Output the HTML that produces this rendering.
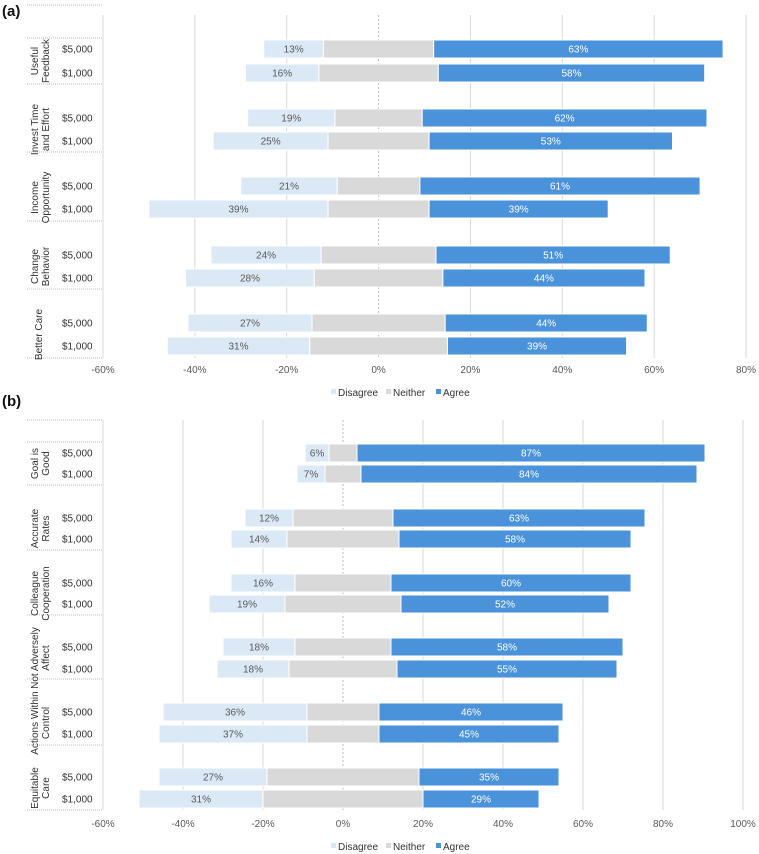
<!DOCTYPE html>
<html><head><meta charset="utf-8">
<style>
html,body{margin:0;padding:0;background:#fff;}
svg{display:block;font-family:"Liberation Sans",sans-serif;}
</style></head>
<body>
<svg id="chart" width="759" height="854" viewBox="0 0 759 854"></svg>
<script>
// ---- Panel (a) data ----
const catsA = ["Useful|Feedback","Invest Time|and Effort","Income|Opportunity","Change|Behavior","Better Care"];
const disagreeA = [13,16,19,25,21,39,24,28,27,31];
const neitherA  = [24,26,19,22,18,22,25,28,29,30];
const agreeA    = [63,58,62,53,61,39,51,44,44,39];
const ticksA = [-60,-40,-20,0,20,40,60,80];
// ---- Panel (b) data ----
const catsB = ["Goal is|Good","Accurate|Rates","Colleague|Cooperation","Not Adversely|Affect","Actions Within|Control","Equitable|Care"];
const disagreeB = [6,7,12,14,16,19,18,18,36,37,27,31];
const neitherB  = [7,9,25,28,24,29,24,27,18,18,38,40];
const agreeB    = [87,84,63,58,60,52,58,55,46,45,35,29];
const ticksB = [-60,-40,-20,0,20,40,60,80,100];
const amounts = ["$5,000","$1,000"];

const NS="http://www.w3.org/2000/svg";
const svg=document.getElementById('chart');
function mk(tag,attrs,parent){const e=document.createElementNS(NS,tag);for(const k in attrs)e.setAttribute(k,attrs[k]);(parent||svg).appendChild(e);return e;}
function txt(s,attrs,parent){const e=mk('text',attrs,parent);e.textContent=s;return e;}

function panel(cfg){
  const g=mk('g',{});
  
  
  const x=v=>cfg.x0+(v-cfg.min)*(cfg.x1-cfg.x0)/(cfg.max-cfg.min);
  // title
  const t=txt(cfg.title,{x:2,y:cfg.titleY,'font-size':15,'font-weight':'bold',fill:'#111'},g);
  
  
  // gridlines
  cfg.ticks.forEach(v=>{
    const gl=mk('line',{x1:x(v),x2:x(v),y1:cfg.gTop,y2:cfg.gBot,stroke:v===0?'#bbb':'#d9d9d9','stroke-width':1,'stroke-dasharray':v===0?'2,2':'none'},g);
    
    
    const tl=txt(v+'%',{x:x(v),y:cfg.tickY,'font-size':10,'text-anchor':'middle',fill:'#595959'},g);
    
    
  });
  // category dividers
  cfg.dividers.forEach(y=>{
    const l=mk('line',{x1:27,x2:cfg.x0,y1:y,y2:y,stroke:'#bbb','stroke-dasharray':'1,1'},g);
    
    
  });
  // bars
  const n=cfg.d.length;
  for(let i=0;i<n;i++){
    const y=cfg.rowY[i], h=18;
    const ns=cfg.n[i]/2;
    const segs=[
      {a:-ns-cfg.d[i],b:-ns,c:'#dbe8f6',v:cfg.d[i],tc:'#595959',name:'bar-disagree',lab:true},
      {a:-ns,b:ns,c:'#d9d9d9',v:cfg.n[i],tc:'#595959',name:'bar-neither',lab:false},
      {a:ns,b:ns+cfg.a[i],c:'#4a92da',v:cfg.a[i],tc:'#fff',name:'bar-agree',lab:true}];
    segs.forEach(s=>{
      const r=mk('rect',{x:x(s.a),y:y-h/2,width:x(s.b)-x(s.a),height:h,fill:s.c,stroke:'#fff','stroke-width':1},g);
      
      
      if(s.lab){
        const bl=txt(s.v+'%',{x:(x(s.a)+x(s.b))/2,y:y+3.5,'font-size':10,'text-anchor':'middle',fill:s.tc},g);
        
        
      }
    });
    const al=txt(amounts[i%2],{x:62,y:y+3.5,'font-size':10,fill:'#333'},g);
    
    
  }
  // category labels
  cfg.cats.forEach((c,k)=>{
    const cy=(cfg.rowY[2*k]+cfg.rowY[2*k+1])/2;
    const lines=c.split('|');
    lines.forEach((ln,j)=>{
      const cx=lines.length===1?42:(38+j*11);
      const ct=txt(ln,{x:cx,y:cy,'font-size':10,'text-anchor':'middle',fill:'#333',transform:`rotate(-90 ${cx} ${cy})`},g);
      
      
    });
  });
  // legend
  const lg=mk('g',{},g);
  
  
  const items=[['Disagree','#dbe8f6',331],['Neither','#d9d9d9',386],['Agree','#4a92da',436]];
  items.forEach(it=>{
    const e=mk('g',{},lg);
    
    
    mk('rect',{x:it[2],y:cfg.legY-7,width:5,height:5,fill:it[1]},e);
    txt(it[0],{x:it[2]+7,y:cfg.legY,'font-size':10,fill:'#333'},e);
  });
}

panel({name:'panel-a',title:'(a)',titleY:16,min:-60,max:80,x0:103,x1:746,ticks:ticksA,gTop:15,gBot:358,tickY:373,legY:396,
  dividers:[5,38,84,152,221,289,358],cats:catsA,d:disagreeA,n:neitherA,a:agreeA,
  rowY:[49,73,118,141,186,209,255,278,323,346]});
panel({name:'panel-b',title:'(b)',titleY:406,min:-60,max:100,x0:103,x1:743,ticks:ticksB,gTop:420,gBot:810,tickY:827,legY:850,
  dividers:[420,442,485,550,615,679,745,810],cats:catsB,d:disagreeB,n:neitherB,a:agreeB,
  rowY:[453,474,518,539,583,604,647,669,712,734,777,799]});
</script>
</body></html>
